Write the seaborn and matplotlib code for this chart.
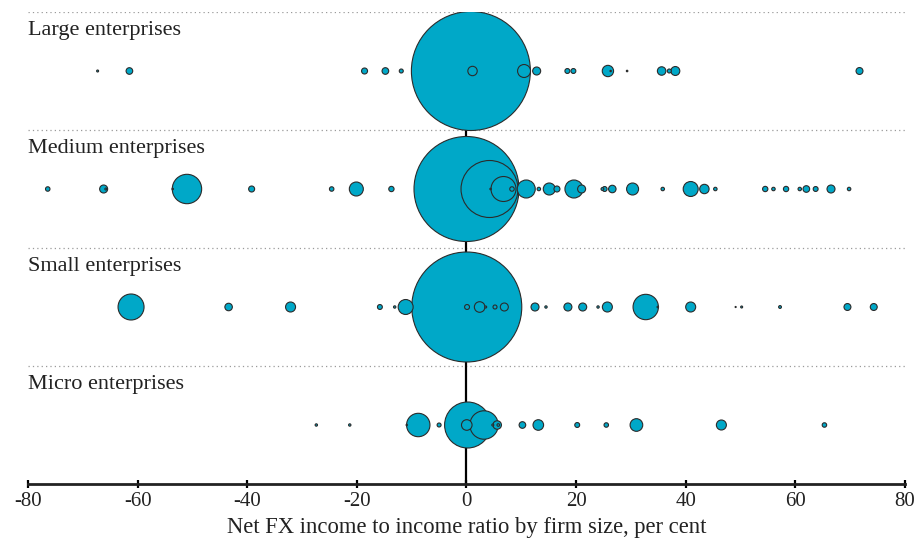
import numpy as np
import matplotlib.pyplot as plt
import pandas as pd
import seaborn as sns

# rows of the chart, top to bottom
rows = ["Large enterprises", "Medium enterprises", "Small enterprises", "Micro enterprises"]

# net FX income to income ratio (per cent) and bubble weight (relative area) per firm
large_x = [-67.3, -61.5, -18.6, -14.8, -11.9, 0.8, 1.1, 10.5, 12.8, 18.4, 19.5,
           25.8, 26.3, 29.3, 35.6, 37.0, 38.1, 71.7]
large_w = [1, 11, 9, 11, 4, 3540, 22, 42, 16, 6, 6,
           32, 0.5, 0.6, 18, 4, 20, 12]

medium_x = [-76.4, -66.2, -65.8, -53.6, -51.0, -39.2, -24.6, -20.1, -13.7, 0.0,
            4.2, 4.4, 6.75, 8.3, 10.9, 13.2, 15.1, 16.5, 19.6, 21.0, 24.8, 25.2,
            26.6, 30.3, 35.8, 40.9, 43.4, 45.4, 54.5, 56.0, 58.3, 60.8, 62.0,
            63.7, 66.5, 69.8]
medium_w = [5, 16, 1, 0.6, 216, 9, 5, 49, 7, 2756,
            812, 0.6, 156, 5, 81, 3, 36, 9, 81, 16, 2, 6,
            14, 36, 3, 56, 22, 3, 7, 3, 7, 3, 11,
            6, 16, 3]

small_x = [-61.2, -43.4, -32.1, -15.8, -13.1, -11.1, 0.05, 0.1, 2.4, 3.5, 5.2,
           6.9, 12.5, 14.5, 18.5, 21.2, 24.0, 25.7, 32.7, 34.9, 40.9, 49.1,
           50.2, 57.2, 69.5, 74.3]
small_w = [169, 14, 25, 6, 1.4, 56, 3025, 6, 28, 1, 4,
           16, 16, 1.4, 16, 16, 1.4, 25, 161, 0.6, 25, 0.3,
           1, 2, 12, 12]

micro_x = [-27.4, -21.3, -10.9, -8.8, -5.0, 0.2, 0.05, 3.2, 4.8, 5.6, 5.8,
           10.2, 13.1, 20.2, 25.5, 31.0, 46.5, 65.3]
micro_w = [1.4, 1.4, 0.5, 137, 4, 529, 28, 202, 1, 18, 1.7,
           11, 28, 6, 5, 40, 25, 5]

xticks = [-80, -60, -40, -20, 0, 20, 40, 60, 80]

frames = []
for i, (xs, ws) in enumerate([(large_x, large_w), (medium_x, medium_w),
                              (small_x, small_w), (micro_x, micro_w)]):
    frames.append(pd.DataFrame({"ratio": xs, "weight": ws, "row": i}))
df = pd.concat(frames, ignore_index=True)
# biggest bubbles first so the small ones sit on top
df = df.sort_values("weight", ascending=False).reset_index(drop=True)

plt.rcParams["font.family"] = ["Liberation Serif", "DejaVu Serif"]
fig = plt.figure(figsize=(9.19, 5.43), dpi=100)
ax = fig.add_axes([28 / 919, 1 - 484 / 543, 877 / 919, 472 / 543])

wmax = 3600
px = 0.72  # points per pixel at 100 dpi
smax = wmax * (2 * px) ** 2

ax.axvline(0, color="black", lw=1.6, zorder=1)
for b in [-0.5, 0.5, 1.5, 2.5]:
    ax.axhline(b, color="#9a9a9a", lw=0.9, ls=(0, (1, 2.5)), zorder=0)

sns.scatterplot(data=df, x="ratio", y="row", size="weight",
                sizes=(0, smax), size_norm=(0, wmax),
                color="#00A8C8", edgecolor="#2b2b2b", linewidth=0.8,
                alpha=1, legend=False, ax=ax, zorder=3)

for i, name in enumerate(rows):
    ax.text(-80, i - 0.5 + 0.195, name, fontsize=16, color="#222222",
            va="baseline", ha="left", zorder=4)

ax.set_xlim(-80, 80)
ax.set_ylim(3.5, -0.5)
ax.set_xticks(xticks)
ax.set_xticklabels([str(t) for t in xticks])
ax.set_yticks([])
ax.set_ylabel("")
ax.set_xlabel("Net FX income to income ratio by firm size, per cent",
              fontsize=16.3, color="#222222", labelpad=4)
ax.tick_params(axis="x", direction="inout", length=6, width=1.6,
               labelsize=15, labelcolor="#222222", pad=3)
for s in ["top", "right", "left"]:
    ax.spines[s].set_visible(False)
ax.spines["bottom"].set_linewidth(2)
ax.spines["bottom"].set_color("#222222")
ax.set_facecolor("white")

plt.savefig("out.png", dpi=100)
